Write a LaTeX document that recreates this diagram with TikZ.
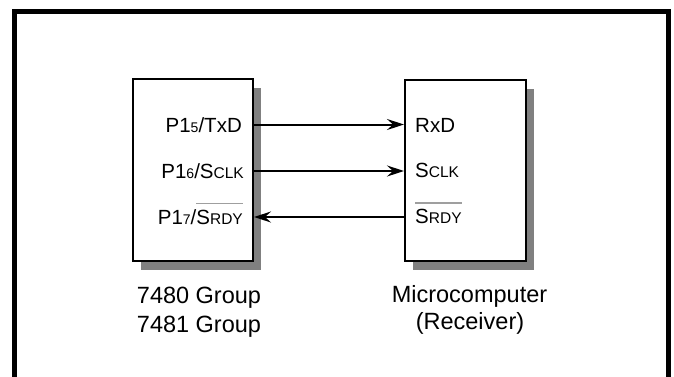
\documentclass[tikz,border=0pt]{standalone}
\usepackage{fontspec}
\setmainfont{Liberation Sans}
\usetikzlibrary{arrows.meta,shadows}
\newcommand\smc[1]{{\fontsize{15.5}{16}\selectfont #1}}
\newcommand\subd[1]{{\fontsize{14}{14}\selectfont #1}}
\newcommand\barred[1]{\setbox0\hbox{#1}\rlap{\color{gray!75}\rule[\dimexpr\ht0+5.5pt\relax]{\wd0}{1.3pt}}\box0}
\begin{document}
\begin{tikzpicture}[x=1pt,y=-1pt,
  box/.style={draw=black, line width=2pt, fill=white, inner sep=0pt,
    drop shadow={shadow xshift=8pt, shadow yshift=-8.5pt, fill=gray, opacity=1}},
  lbl/.style={font=\fontsize{20.5}{22}\selectfont, inner sep=0pt},
  captxt/.style={font=\fontsize{23.5}{28}\selectfont, inner sep=0pt, anchor=base},
  arr/.style={line width=2pt, -{Stealth[length=17pt,width=11pt,inset=6pt]}}
]
\useasboundingbox (0,0) rectangle (674,376);
\begin{scope}
  \clip (0,0) rectangle (674,376);
  \draw[line width=5pt] (14.5,400) |- (668.5,11) -- (668.5,400);
\end{scope}

\node[box, minimum width=120, minimum height=182] (L) at (193,170) {};
\node[box, minimum width=121, minimum height=181] (R) at (465.5,170.5) {};

\node[lbl, anchor=base east] (l1) at (242,132) {P1\subd{5}/TxD};
\node[lbl, anchor=base east] (l2) at (244,178) {P1\subd{6}/S\smc{CLK}};
\node[lbl, anchor=base east] (l3) at (243,224) {P1\subd{7}/\barred{S\smc{RDY}}};

\node[lbl, anchor=base west] (r1) at (415,132) {RxD};
\node[lbl, anchor=base west] (r2) at (415,177.5) {S\smc{CLK}};
\node[lbl, anchor=base west] (r3) at (415,223.5) {\barred{S\smc{RDY}}};

\coordinate (row1) at (0,124.5);
\coordinate (row2) at (0,171);
\coordinate (row3) at (0,217);

\draw[arr] (L.east |- row1) -- (R.west |- row1);
\draw[arr] (L.east |- row2) -- (R.west |- row2);
\draw[arr] (R.west |- row3) -- (L.east |- row3);

\node[captxt] (c1) at (199,303) {7480 Group};
\node[captxt] (c2) at (199,332) {7481 Group};
\node[captxt] (c3) at (469.5,302) {Microcomputer};
\node[captxt] (c4) at (470,329) {(Receiver)};
\end{tikzpicture}
\end{document}
